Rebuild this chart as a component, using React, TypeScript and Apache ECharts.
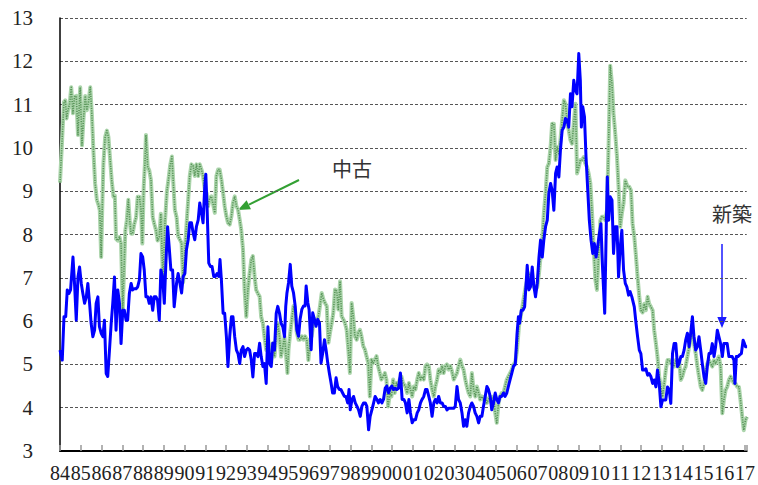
import React, { useEffect, useRef } from "react";
import * as echarts from "echarts";

// Year tick labels (one per January, month index = 12 * i, starting Jan 1984)
const yearLabels = [
  "84", "85", "86", "87", "88", "89", "90", "91", "92", "93", "94", "95",
  "96", "97", "98", "99", "00", "01", "02", "03", "04", "05", "06", "07",
  "08", "09", "10", "11", "12", "13", "14", "15", "16", "17",
];

// 中古 (used): [months since Jan 1984, value]
const usedPoints: [number, number][] = [
  [0, 9.2], [1.3, 10.25], [2.3, 11.06], [3.1, 11.1], [3.8, 10.68], [4.6, 10.87], [5.6, 11.02], [6.5, 11.4],
  [7.5, 10.8], [8.4, 11.18], [9.4, 11.2], [10.4, 10.3], [11.1, 10.95], [11.7, 11.4], [12.7, 10.06], [13.6, 10.68],
  [14.6, 11.2], [15.5, 10.87], [16.5, 11.06], [17.5, 11.4], [18.4, 10.8], [19.4, 9.87], [20.3, 9.18], [21.3, 8.8],
  [22.3, 8.68], [23, 8.56], [23.8, 7.48], [24.4, 8.56], [25.1, 9.64], [26.1, 10.25], [27.1, 10.4], [28, 10.25],
  [29, 9.72], [29.9, 9.25], [30.9, 8.87], [31.7, 8.9], [32.4, 7.9], [33.4, 7.86], [34.4, 7.94], [35.3, 7.79],
  [36.3, 6.25], [37, 7.18], [37.8, 8.1], [38.6, 8.33], [39.5, 8.8], [40.3, 8.33], [41.1, 8.02], [42, 8.02],
  [43, 8.25], [44, 8.4], [44.9, 8.87], [45.9, 8.87], [46.8, 8.6], [47.6, 7.79], [48.4, 9.1], [49.1, 9.64],
  [49.7, 10.3], [50.7, 9.56], [51.6, 9.48], [52.6, 9.25], [53.6, 8.4], [54.5, 8.25], [55.5, 8.1], [56.4, 7.86],
  [57.4, 7.94], [58.3, 8.48], [59.5, 7.0], [60.7, 8.3], [61.8, 9.0], [62.8, 9.3], [63.7, 9.6], [64.7, 9.8],
  [65.5, 9.2], [66.4, 8.57], [67.4, 8.4], [68.3, 7.96], [69.3, 7.88], [70.3, 7.8], [71.2, 6.9], [72.2, 7.65],
  [73.1, 8.2], [74.1, 8.8], [75, 9.35], [76, 9.62], [77, 9.58], [77.9, 9.35], [78.9, 9.62], [79.9, 9.35],
  [80.8, 9.62], [81.8, 9.5], [82.7, 9.35], [83.7, 9.04], [84.7, 8.96], [85.6, 8.65], [86.6, 8.85], [87.5, 8.88],
  [88.5, 8.7], [89.5, 8.5], [90.4, 9.35], [91.4, 9.5], [92.3, 9.5], [93.3, 9.27], [94.3, 8.96], [95.2, 8.65],
  [96.2, 8.42], [97.1, 8.27], [98.1, 8.23], [99.1, 8.42], [100, 8.73], [101, 8.88], [102, 8.65], [102.9, 8.58],
  [103.9, 8.34], [104.8, 8.1], [105.8, 7.65], [106.7, 6.72], [107.7, 6.1], [108.6, 6.72], [109.6, 7.1], [110.6, 7.42],
  [111.5, 7.5], [112.5, 7.03], [113.4, 6.72], [114.4, 6.64], [115.4, 6.57], [116.3, 6.1], [117.3, 5.95], [118.2, 5.64],
  [119.2, 5.33], [120.2, 5.64], [121.1, 5.18], [122.1, 5.02], [123, 5.49], [124, 5.18], [125, 5.64], [125.9, 5.95],
  [126.9, 5.64], [127.8, 5.18], [128.8, 5.41], [129.8, 5.64], [130.7, 5.2], [131.5, 4.8], [132.1, 5.34], [133.1, 5.73],
  [134, 6.04], [135, 6.35], [136, 6.11], [136.9, 5.73], [137.9, 5.57], [138.8, 5.57], [139.8, 5.65], [140.8, 5.57],
  [141.7, 5.65], [142.7, 5.57], [143.6, 5.1], [144.6, 5.57], [145.5, 5.65], [146.5, 5.96], [147.5, 6.04], [148.4, 5.96],
  [149.4, 6.11], [150.3, 6.35], [151.3, 6.65], [152.3, 6.5], [153.2, 6.42], [154.2, 6.35], [155.2, 5.5], [156.1, 5.73],
  [157.1, 5.96], [158, 6.19], [159, 6.73], [160, 6.69], [160.9, 6.27], [161.9, 6.92], [162.8, 6.11], [163.8, 6.04],
  [164.7, 5.96], [165.7, 5.8], [166.7, 5.34], [167.6, 4.8], [168.6, 6.42], [169.5, 6.11], [170.5, 5.65], [171.5, 5.57],
  [172.4, 5.73], [173.4, 5.8], [174.3, 5.65], [175.3, 5.42], [176.3, 5.34], [177.2, 5.19], [178.2, 5.03], [179.1, 4.26],
  [180.1, 5.11], [181, 5.03], [182, 5.11], [183, 5.19], [183.9, 4.96], [184.9, 4.8], [185.8, 4.65], [186.8, 4.72],
  [187.8, 4.8], [188.7, 4.65], [189.7, 4.03], [190.7, 4.34], [191.6, 4.26], [192.6, 4.65], [193.5, 4.34], [194.5, 4.57],
  [195.5, 4.49], [196.4, 4.65], [197.4, 4.72], [198.3, 4.57], [199.7, 4.49], [200.7, 4.34], [201.7, 4.57], [202.6, 4.42],
  [203.6, 4.26], [204.5, 4.49], [205.5, 4.42], [206.5, 4.65], [207.4, 4.8], [208.4, 4.65], [209.3, 4.72], [210.3, 4.65],
  [211.3, 4.96], [212.2, 5.0], [213.2, 4.96], [214.1, 4.65], [215.1, 4.42], [216.1, 4.26], [217, 4.49], [218, 4.65],
  [218.9, 4.88], [219.9, 4.8], [220.9, 4.96], [221.8, 4.8], [222.8, 4.96], [223.7, 5.0], [224.7, 4.88], [225.7, 4.96],
  [226.6, 4.84], [227.6, 4.65], [228.5, 4.72], [229.5, 4.8], [230.4, 4.96], [231.4, 5.11], [232.4, 4.96], [233.3, 4.88],
  [234.3, 4.65], [235.2, 4.49], [236.2, 4.34], [237.2, 4.26], [238.1, 4.8], [239.1, 4.42], [240.1, 4.26], [241, 4.49],
  [242, 4.34], [242.9, 4.19], [243.9, 4.26], [244.8, 4.19], [245.8, 4.26], [246.8, 4.11], [247.7, 4.19], [248.7, 4.26],
  [249.6, 4.11], [250.6, 4.26], [251.6, 3.88], [252.5, 3.65], [253.5, 4.11], [254.4, 4.26], [255.4, 4.34], [256.4, 4.34],
  [257.3, 4.49], [258.3, 4.65], [259.2, 4.72], [260.2, 4.8], [261.2, 4.88], [262.2, 5.0], [263.2, 5.05], [264.2, 5.33],
  [265.3, 5.87], [266.3, 6.1], [267.3, 6.33], [268.2, 6.56], [269.2, 6.79], [270.1, 6.95], [271.1, 7.1], [272, 7.02],
  [273, 6.87], [274, 6.79], [274.9, 6.72], [275.9, 6.79], [276.9, 7.1], [277.8, 7.48], [278.8, 7.87], [279.7, 8.48],
  [280.7, 8.95], [281.7, 9.56], [282.6, 9.64], [283.6, 10.02], [284.5, 10.56], [285.5, 10.56], [286.5, 9.72], [287.4, 10.02],
  [288.4, 9.87], [289.3, 10.18], [290.3, 10.64], [291.3, 11.1], [292.2, 11.02], [293.2, 10.56], [294.1, 10.41], [295.1, 10.18],
  [296, 10.1], [297, 10.56], [298, 11.02], [298.9, 9.41], [299.9, 9.56], [300.8, 9.72], [301.8, 9.72], [302.8, 9.79],
  [303.7, 9.64], [304.7, 9.56], [305.6, 9.41], [306.6, 9.18], [307.6, 8.48], [308.5, 7.72], [309.5, 6.95], [310.4, 6.72],
  [311.4, 7.56], [312.4, 8.33], [313.3, 8.41], [314.3, 8.41], [315.2, 8.33], [316.2, 8.56], [317.2, 10.18], [318.1, 11.9],
  [319.1, 11.48], [320, 10.79], [321, 10.33], [322, 9.79], [322.9, 9.1], [323.9, 8.18], [324.8, 8.48], [325.8, 8.72],
  [326.8, 9.25], [328.2, 9.1], [329.1, 9.1], [330.1, 9.02], [331, 8.25], [332, 7.95], [333, 7.48], [333.9, 7.02],
  [334.9, 6.56], [335.8, 6.25], [336.8, 6.2], [337.8, 6.4], [338.7, 6.25], [339.7, 6.56], [340.6, 6.4], [341.6, 6.33],
  [342.6, 6.25], [343.5, 5.79], [344.5, 5.48], [345.4, 5.18], [346.4, 4.72], [347.4, 4.48], [348.3, 4.25], [349.3, 4.56],
  [350.2, 4.87], [351.2, 5.1], [352.2, 5.1], [353.1, 5.02], [354.1, 5.1], [355, 4.95], [356, 5.1], [357, 4.95],
  [357.9, 5.1], [358.9, 4.64], [359.8, 4.72], [360.8, 4.87], [361.7, 4.95], [362.7, 5.18], [363.7, 5.41], [364.6, 5.56],
  [365.6, 5.79], [366.5, 5.48], [367.5, 5.25], [368.5, 4.95], [369.4, 4.72], [370.4, 4.48], [371.3, 4.41], [372.3, 4.56],
  [373.3, 4.87], [374.2, 5.02], [375.2, 5.1], [376.1, 5.02], [377.1, 4.95], [378.1, 5.1], [379, 5.02], [380, 5.1],
  [380.9, 5.18], [381.9, 4.95], [382.9, 3.87], [383.8, 4.18], [384.8, 4.41], [385.7, 4.48], [386.7, 4.64], [387.7, 4.72],
  [388.6, 4.64], [389.6, 4.56], [390.5, 4.56], [391.5, 4.48], [392.5, 4.48], [393.4, 4.18], [394.4, 3.79], [395.3, 3.48],
  [396.3, 3.72], [397.2, 3.79],
];

// 新築 (new): [months since Jan 1984, value]
const newPoints: [number, number][] = [
  [0, 5.33], [1.3, 5.1], [2.3, 6.1], [3.3, 6.1], [4.2, 6.72], [5.2, 6.64], [6.1, 6.72], [7.5, 7.48],
  [8.4, 6.87], [9.4, 6.02], [10.4, 7.02], [11.3, 7.25], [12.3, 6.87], [13.2, 6.64], [14.2, 6.41], [15.2, 6.56],
  [16.1, 6.87], [17.1, 6.41], [18, 5.95], [19, 5.64], [20, 5.79], [20.9, 6.41], [21.9, 6.56], [22.8, 5.87],
  [23.8, 5.72], [24.8, 5.64], [25.7, 6.02], [26.7, 4.79], [27.6, 4.72], [28.6, 5.33], [29.6, 5.95], [30.5, 6.41],
  [31.5, 7.02], [32.4, 5.79], [33.4, 6.72], [34.4, 6.41], [35.3, 5.48], [36.3, 6.25], [37.2, 6.25], [38.2, 6.02],
  [39.1, 6.02], [40.1, 6.64], [41.1, 6.87], [42, 6.72], [43, 6.75], [44, 6.75], [44.9, 6.79], [45.9, 6.95],
  [46.8, 7.56], [47.8, 7.48], [48.7, 7.18], [49.7, 6.56], [50.7, 6.56], [51.6, 6.41], [52.6, 6.56], [53.6, 6.25],
  [54.5, 6.56], [55.5, 6.56], [56.4, 6.48], [57.4, 6.02], [58.3, 7.18], [59.3, 7.02], [60.3, 6.41], [61.2, 7.33],
  [62.2, 8.18], [63.1, 7.72], [64.1, 7.18], [65.1, 7.18], [66, 6.33], [67.4, 6.88], [68.3, 7.1], [69.3, 6.88],
  [70.3, 6.65], [71.2, 7.03], [72.2, 7.1], [73.1, 7.65], [74.1, 7.88], [75, 8.27], [76, 8.27], [77, 8.03],
  [77.9, 7.88], [78.9, 8.19], [79.9, 8.34], [80.8, 8.73], [81.8, 8.5], [82.7, 8.27], [83.7, 9.12], [84.3, 9.39],
  [85, 8.65], [86, 7.34], [87, 7.26], [87.9, 7.26], [88.9, 7.03], [89.8, 7.03], [90.8, 7.1], [91.8, 7.03],
  [92.5, 7.42], [93.3, 6.95], [94.3, 6.18], [95.2, 6.18], [96.2, 5.64], [97.1, 4.95], [98.1, 5.64], [99.1, 6.1],
  [100, 6.1], [101, 5.64], [102, 5.33], [102.9, 5.25], [103.9, 5.02], [104.8, 5.33], [105.8, 5.41], [106.7, 5.18],
  [107.7, 5.33], [108.6, 5.37], [109.6, 5.33], [110.6, 5.1], [111.5, 4.71], [112.5, 5.25], [113.4, 5.25], [114.4, 5.18],
  [115.4, 5.49], [116.3, 5.18], [117.3, 4.95], [118.2, 5.02], [119.2, 4.56], [120.2, 5.87], [121.1, 5.02], [122.1, 4.95],
  [123, 5.49], [124, 5.33], [125, 6.18], [125.9, 6.34], [126.9, 6.18], [127.8, 5.95], [128.8, 5.87], [129.8, 5.64],
  [130.5, 6.34], [131.2, 6.65], [132.1, 6.88], [133.1, 7.31], [134, 6.81], [135, 6.65], [136, 6.34], [136.9, 5.8],
  [137.9, 5.65], [138.8, 6.04], [139.8, 6.27], [140.8, 6.35], [141.7, 6.35], [142.3, 6.81], [143.3, 6.42], [144, 6.27],
  [145.2, 5.34], [146.1, 6.19], [147.1, 6.04], [148, 5.88], [149, 6.04], [150, 5.96], [150.9, 5.03], [151.9, 5.27],
  [152.9, 5.57], [153.8, 5.34], [154.8, 5.03], [155.7, 4.8], [156.7, 4.57], [157.6, 4.34], [158.6, 4.34], [159.6, 4.69],
  [160.5, 4.49], [161.5, 4.42], [162.4, 4.42], [163.4, 4.34], [164.4, 4.26], [165.3, 4.26], [166.3, 4.11], [167.1, 4.42],
  [167.8, 3.95], [168.8, 4.19], [169.7, 4.26], [170.7, 4.11], [171.7, 4.03], [172.6, 3.95], [173.6, 3.8], [174.5, 4.03],
  [175.5, 4.11], [176.5, 4.11], [177.4, 4.03], [178.4, 3.49], [179.3, 3.8], [180.3, 3.95], [181.3, 4.11], [182.2, 4.26],
  [183.2, 4.19], [184.1, 4.11], [185.1, 4.19], [186.1, 4.11], [187, 4.19], [188, 4.45], [188.9, 4.5], [189.9, 4.34],
  [190.9, 4.45], [191.8, 4.5], [192.8, 4.42], [193.7, 4.45], [194.7, 4.42], [195.7, 4.45], [196.8, 4.8], [197.8, 4.19],
  [198.8, 4.19], [199.7, 4.11], [200.7, 3.88], [201.7, 4.19], [202.6, 3.88], [203.6, 3.65], [204.5, 3.72], [205.5, 3.72],
  [206.5, 3.88], [207.4, 3.95], [208.4, 4.11], [209.3, 4.19], [210.3, 4.26], [211.3, 4.42], [212.2, 4.42], [213.2, 4.26],
  [214.1, 4.11], [215.1, 3.8], [216.1, 4.11], [217, 4.19], [218, 4.11], [218.9, 4.26], [219.9, 4.11], [220.9, 4.11],
  [221.8, 4.03], [222.8, 4.03], [223.7, 3.95], [224.7, 3.99], [225.7, 3.99], [226.6, 3.99], [227.6, 3.99], [228.5, 4.03],
  [229.5, 4.49], [230.4, 4.19], [231.4, 4.11], [232.4, 3.88], [233.3, 3.57], [234.3, 3.72], [235.2, 3.57], [236.2, 3.88],
  [237.2, 4.03], [238.1, 4.11], [239.1, 4.03], [240, 3.88], [241, 3.8], [242, 3.65], [242.9, 3.8], [243.9, 3.8],
  [244.8, 4.03], [245.8, 4.26], [246.8, 4.49], [247.7, 4.42], [248.7, 4.26], [249.6, 3.95], [250.6, 4.11], [251.6, 4.34],
  [252.5, 4.19], [253.5, 4.11], [254.4, 4.26], [255.4, 4.26], [256.4, 4.34], [257.3, 4.26], [258.3, 4.34], [259.2, 4.49],
  [260.2, 4.65], [261.2, 4.8], [262.2, 4.96], [263.2, 5.0], [264.2, 5.7], [265, 6.1], [265.7, 5.95], [266.7, 6.25],
  [267.6, 6.25], [268.6, 6.33], [269.6, 6.95], [270.1, 7.29], [271.1, 6.72], [272, 6.79], [273, 7.25], [274, 6.79],
  [274.9, 6.56], [275.9, 6.87], [276.9, 7.48], [277.8, 7.87], [278.8, 7.48], [279.7, 7.87], [280.7, 8.18], [281.7, 8.33],
  [282.6, 8.95], [283.6, 9.18], [284.5, 9.02], [285.5, 8.56], [286.5, 9.41], [287.4, 9.56], [288.4, 9.33], [289.3, 9.95],
  [290.3, 10.41], [291.3, 10.48], [292.2, 10.68], [293.2, 10.64], [294.1, 10.48], [295.1, 11.25], [296, 10.95], [297, 11.56],
  [298, 11.33], [298.9, 11.25], [299.9, 12.18], [300.8, 11.56], [301.4, 10.48], [302.2, 10.95], [303.2, 10.72], [304.1, 9.79],
  [305.1, 9.02], [306, 8.33], [307, 7.87], [308, 7.56], [308.9, 7.79], [309.9, 7.48], [310.8, 7.72], [311.8, 8.02],
  [312.7, 8.25], [313.7, 7.18], [314.9, 6.18], [315.8, 8.18], [316.4, 9.33], [317.2, 8.33], [318.1, 8.87], [319.1, 8.79],
  [320, 7.56], [321, 8.18], [322, 8.18], [322.9, 7.02], [323.9, 7.72], [324.8, 8.1], [325.8, 7.18], [326.8, 6.87],
  [327.7, 6.79], [328.7, 6.6], [329.6, 6.68], [330.6, 6.56], [332, 6.33], [333, 5.95], [333.9, 5.64], [334.9, 5.33],
  [335.8, 5.25], [336.8, 4.87], [337.8, 4.87], [338.7, 4.9], [339.7, 4.75], [340.6, 4.79], [341.6, 4.72], [342.6, 4.56],
  [343.5, 4.64], [344.5, 4.48], [345.4, 4.87], [346.4, 4.56], [347.4, 4.02], [348.3, 4.18], [349.3, 4.18], [350.2, 4.18],
  [351.2, 4.48], [352.2, 4.41], [353.1, 4.1], [354.1, 5.25], [355, 5.48], [356, 5.48], [357, 4.95], [357.9, 5.02],
  [358.9, 5.18], [359.8, 5.18], [360.8, 5.33], [361.7, 5.56], [362.7, 5.72], [363.7, 5.41], [364.6, 5.72], [365.6, 6.1],
  [366.5, 5.64], [367.5, 5.33], [368.5, 5.41], [369.4, 5.64], [370.4, 5.33], [371.3, 5.02], [372.3, 4.72], [373.3, 4.56],
  [374.2, 4.95], [375.2, 5.25], [376.1, 5.25], [377.1, 5.48], [378.1, 5.18], [379, 5.41], [380, 5.79], [380.9, 5.64],
  [381.9, 5.48], [382.9, 5.18], [383.8, 5.48], [384.8, 5.48], [385.7, 5.48], [386.7, 5.18], [387.7, 5.18], [388.6, 5.18],
  [389.6, 5.1], [390.2, 4.56], [391, 5.18], [392, 5.18], [392.9, 5.22], [393.9, 5.25], [394.9, 5.56], [395.7, 5.48],
  [396.3, 5.41], [397.2, 5.41],
];

const SERIF = "Liberation Serif";
const CJK = "Noto Sans CJK JP";

export default function App() {
  const ref = useRef<HTMLDivElement>(null);

  useEffect(() => {
    if (!ref.current) return;
    const chart = echarts.init(ref.current, undefined, { renderer: "svg" });
    chart.setOption({
      animation: false,
      backgroundColor: "#ffffff",
      textStyle: { fontFamily: SERIF },
      grid: { left: 60, right: 9, top: 18, bottom: 34, containLabel: false },
      xAxis: {
        type: "value",
        min: 0,
        max: 397,
        interval: 12,
        axisLine: { show: true, onZero: false, lineStyle: { color: "#000", width: 2 } },
        axisTick: { show: true, inside: true, length: 6, lineStyle: { color: "#999", width: 1.5 } },
        axisLabel: {
          showMinLabel: true,
          showMaxLabel: true,
          hideOverlap: false,
          fontFamily: SERIF,
          fontSize: 20,
          color: "#222",
          margin: 12,
          formatter: (v: number) => {
            const i = Math.round(v / 12);
            return Math.abs(v - i * 12) < 1e-6 && yearLabels[i] ? yearLabels[i] : "";
          },
        },
        splitLine: { show: false },
      },
      yAxis: {
        type: "value",
        min: 3,
        max: 13,
        interval: 1,
        axisLine: { show: true, lineStyle: { color: "#000", width: 1.5 } },
        axisTick: { show: false },
        axisLabel: { fontFamily: SERIF, fontSize: 21, color: "#222", margin: 27 },
        splitLine: { show: true, lineStyle: { color: "#555", width: 1, type: [3, 2] } },
      },
      series: [
        {
          name: "中古",
          type: "line",
          data: usedPoints,
          showSymbol: false,
          symbol: "none",
          silent: true,
          lineStyle: { color: "#acd5ac", width: 4, join: "round" },
          z: 2,
        },
        {
          name: "中古",
          type: "line",
          data: usedPoints,
          showSymbol: false,
          symbol: "none",
          silent: true,
          lineStyle: { color: "#5a955a", width: 1.6, type: [1.2, 1.2], join: "round" },
          z: 3,
        },
        {
          name: "新築",
          type: "line",
          data: newPoints,
          showSymbol: false,
          symbol: "none",
          silent: true,
          lineStyle: { color: "#0000ff", width: 3, join: "round" },
          z: 4,
        },
      ],
      graphic: [
        {
          type: "text",
          x: 332,
          y: 168,
          style: { text: "中古", fontFamily: CJK, fontSize: 20, fill: "#333", textAlign: "left", textVerticalAlign: "middle" },
        },
        {
          type: "line",
          shape: { x1: 299, y1: 180, x2: 249, y2: 204.6 },
          style: { stroke: "#33a033", lineWidth: 2 },
        },
        {
          type: "polygon",
          shape: { points: [[238, 210], [251, 209.2], [246.6, 200.2]] },
          style: { fill: "#33a033" },
        },
        {
          type: "text",
          x: 712,
          y: 213,
          style: { text: "新築", fontFamily: CJK, fontSize: 20, fill: "#333", textAlign: "left", textVerticalAlign: "middle" },
        },
        {
          type: "line",
          shape: { x1: 722, y1: 244, x2: 722, y2: 318 },
          style: { stroke: "#1a1aff", lineWidth: 1.5 },
        },
        {
          type: "polygon",
          shape: { points: [[722, 328], [717.3, 317], [726.7, 317]] },
          style: { fill: "#1a1aff" },
        },
      ],
    });
    return () => chart.dispose();
  }, []);

  return (
    <div
      ref={ref}
      style={{ position: "fixed", left: 0, top: 0, width: 758, height: 485, background: "#fff" }}
    />
  );
}
